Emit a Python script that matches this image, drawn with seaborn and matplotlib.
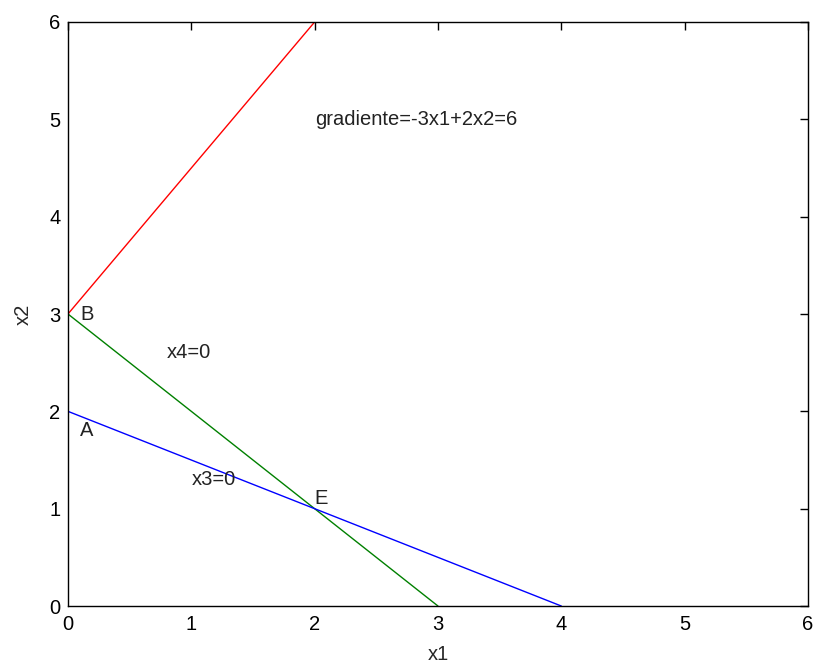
import matplotlib
matplotlib.use("Agg")
import matplotlib.pyplot as plt
import seaborn as sns

# Data: constraint lines and gradient line
grad_x1 = [0, 2]
grad_x2 = [3, 6]
x4_x1 = [0, 3]
x4_x2 = [3, 0]
x3_x1 = [0, 4]
x3_x2 = [2, 0]

# Annotations: (text, x, y)
labels = ["gradiente=-3x1+2x2=6", "B", "x4=0", "A", "x3=0", "E"]
label_x = [2, 0.1, 0.8, 0.1, 1, 2]
label_y = [5, 3, 2.6, 1.8, 1.3, 1.1]

sns.set_style("white")
plt.rcParams['font.family'] = ['Liberation Sans', 'DejaVu Sans']

fig = plt.figure(figsize=(8.15, 6.64), dpi=100)
ax = fig.add_axes([0.0834, 0.0873, 0.908, 0.8796])

sns.lineplot(x=grad_x1, y=grad_x2, color="red", lw=1, ax=ax)
sns.lineplot(x=x4_x1, y=x4_x2, color="green", lw=1, ax=ax)
sns.lineplot(x=x3_x1, y=x3_x2, color="blue", lw=1, ax=ax)

for t, x, y in zip(labels, label_x, label_y):
    ax.text(x, y, t, fontsize=14.5, ha="left", va="center", color="#222222")

ax.set_xlim(0, 6)
ax.set_ylim(0, 6)
ax.set_xticks(range(7))
ax.set_yticks(range(7))
ax.set_xlabel("x1", fontsize=14.5, labelpad=8)
ax.set_ylabel("x2", fontsize=14.5, labelpad=12)
ax.tick_params(direction="in", length=6, width=1, top=True, right=True,
               labelsize=14.5, colors="black")
ax.tick_params(axis="x", pad=6.5)
ax.tick_params(axis="y", pad=5.5)
for s in ax.spines.values():
    s.set_color("black")
    s.set_linewidth(1)

plt.savefig("out.png", dpi=100)
